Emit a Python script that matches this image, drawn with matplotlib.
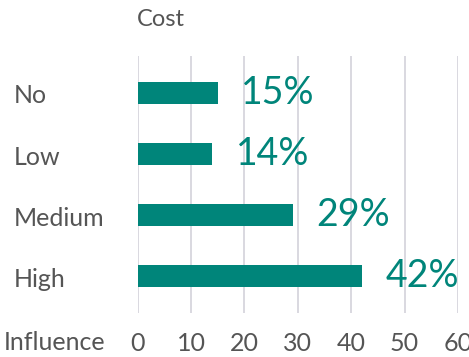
import matplotlib.pyplot as plt
import matplotlib.transforms as mtransforms

categories = ["No", "Low", "Medium", "High"]
values = [15, 14, 29, 42]
ticks = [0, 10, 20, 30, 40, 50, 60]

teal = "#00857a"
grey = "#555555"
plt.rcParams["font.family"] = ["Lato", "DejaVu Sans"]

fig = plt.figure(figsize=(4.69, 3.57), dpi=100)
ax = fig.add_axes([0.2936, 0.1232, 0.6829, 0.7198])

pos = list(range(len(categories)))
ax.barh(pos, values, height=0.36, color=teal, zorder=3)
ax.set_ylim(len(categories) - 0.4, -0.6)
ax.set_xlim(0, 60)

# value labels to the right of each bar
for p, v in zip(pos, values):
    ax.annotate(f"{v}%", (v, p), xytext=(17, 0), textcoords="offset points",
                ha="left", va="center", fontsize=27, color=teal)

# category names hang at the left edge of the figure, a touch below bar centre
trans = mtransforms.blended_transform_factory(fig.transFigure, ax.transData)
for p, c in zip(pos, categories):
    ax.text(14 / 469, p + 0.05, c, transform=trans, ha="left", va="center",
            fontsize=18, color=grey)

ax.set_xticks(ticks)
ax.set_xticklabels([str(t) for t in ticks], fontsize=18, color=grey)
ax.tick_params(axis="x", length=0, pad=14)
ax.set_yticks([])
ax.grid(axis="x", color="#d3d2da", linewidth=1.2, zorder=0)
for s in ax.spines.values():
    s.set_visible(False)

fig.text(105 / 469, 1 - 343 / 357, "Influence", ha="right", va="center",
         fontsize=18, color=grey)
fig.text(137 / 469, 1 - 20 / 357, "Cost", ha="left", va="center",
         fontsize=17, color=grey)

fig.savefig("out.png", dpi=100)
